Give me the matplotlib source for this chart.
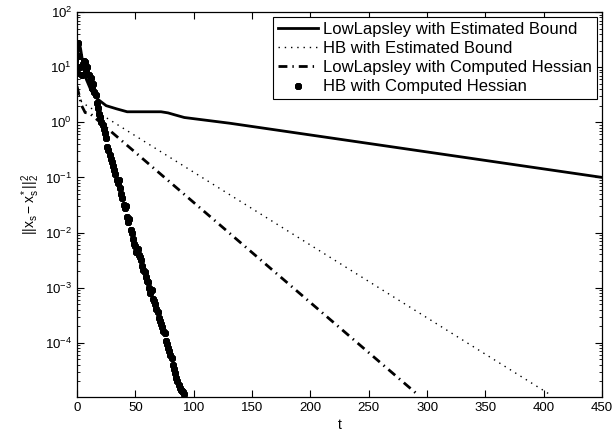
#!/usr/bin/env python3
import numpy as np
import matplotlib
matplotlib.use("Agg")
import matplotlib.pyplot as plt
from matplotlib.ticker import LogLocator, NullFormatter

# LowLapsley with Estimated Bound (breakpoints, straight in log scale)
ll_est_t = [0, 1, 2, 3, 5, 8, 12, 17, 25, 34, 43, 72, 78, 84, 92, 131, 450]
ll_est_v = [8, 20, 27, 22, 12, 6, 3.8, 2.7, 2.0, 1.75, 1.55, 1.55, 1.48, 1.36, 1.22, 0.96, 0.1]

# HB with Estimated Bound
hb_est_t = [0, 4, 407]
hb_est_v = [4.0, 2.3, 1.1e-5]

# LowLapsley with Computed Hessian
ll_hess_t = [0, 4, 7, 11, 291]
ll_hess_v = [4.5, 2.0, 1.5, 1.45, 1.2e-5]

# HB with Computed Hessian, log10 of the error read at t = 0, 1, 2, ...
hb_hess_log10 = [
    0.9, 1.43, 1.2, 1.0, 0.85, 1.05, 1.12, 1.1, 0.95, 1.0,
    0.85, 0.75, 0.8, 0.62, 0.7, 0.55, 0.5, 0.35, 0.25, 0.15,
    0.1, 0.0, -0.05, -0.12, -0.2, -0.28, -0.45, -0.5, -0.6, -0.66,
    -0.72, -0.8, -0.86, -0.93, -1.05, -1.1, -1.05, -1.2, -1.3, -1.38,
    -1.5, -1.55, -1.52, -1.72, -1.8, -1.75, -1.95, -2.0, -2.12, -2.2,
    -2.25, -2.35, -2.3, -2.4, -2.45, -2.5, -2.6, -2.68, -2.72, -2.8,
    -2.88, -2.9, -3.0, -3.1, -3.05, -3.2, -3.24, -3.3, -3.38, -3.45,
    -3.55, -3.6, -3.66, -3.72, -3.78, -3.82, -3.96, -4.02, -4.1, -4.15,
    -4.22, -4.28, -4.4, -4.48, -4.55, -4.63, -4.7, -4.76, -4.82, -4.86,
    -4.88, -4.9, -4.92,
]

x_ticks = [0, 50, 100, 150, 200, 250, 300, 350, 400, 450]


def main() -> None:
    plt.rcParams["font.family"] = ["Liberation Sans", "DejaVu Sans"]
    plt.rcParams["mathtext.fontset"] = "custom"
    plt.rcParams["mathtext.rm"] = "Liberation Sans"
    plt.rcParams["mathtext.it"] = "Liberation Sans"
    plt.rcParams["mathtext.default"] = "regular"

    fig = plt.figure(figsize=(6.14, 4.36), dpi=100)
    ax = fig.add_axes([0.1254, 0.0894, 0.8551, 0.8831])

    hb_t = np.arange(len(hb_hess_log10))
    hb_v = np.power(10.0, hb_hess_log10)

    ax.plot(ll_est_t, ll_est_v, color="black", lw=2.0, ls="-",
            label="LowLapsley with Estimated Bound")
    ax.plot(hb_est_t, hb_est_v, color="black", lw=1.0, ls=(0, (1, 3.5)),
            label="HB with Estimated Bound")
    ax.plot(ll_hess_t, ll_hess_v, color="black", lw=2.0, ls=(0, (3.2, 1.8, 0.5, 1.8)),
            label="LowLapsley with Computed Hessian")
    ax.plot(hb_t, hb_v, color="black", ls="none", marker=(8, 2, 0),
            markersize=5, markeredgewidth=1.8,
            label="HB with Computed Hessian")

    ax.set_yscale("log")
    ax.set_xlim(0, 450)
    ax.set_ylim(1.04e-5, 100)
    ax.set_xticks(x_ticks)
    ax.set_yticks([1e-4, 1e-3, 1e-2, 1e-1, 1e0, 1e1, 1e2])
    ax.yaxis.set_minor_locator(LogLocator(base=10, subs=np.arange(2, 10), numticks=20))
    ax.yaxis.set_minor_formatter(NullFormatter())

    ax.tick_params(which="both", direction="in", top=True, right=True, labelsize=9.5)
    ax.tick_params(which="major", length=5, width=0.8)
    ax.tick_params(which="minor", length=2.5, width=0.6)
    for s in ax.spines.values():
        s.set_linewidth(0.9)

    ax.set_xlabel("t", fontsize=10, labelpad=3)
    ax.set_ylabel(r"$||x_s-x_s^*||_2^2$", fontsize=10, labelpad=2)

    leg = ax.legend(loc="upper right", fontsize=12, handlelength=2.4,
                    fancybox=False, framealpha=1, edgecolor="black",
                    borderaxespad=0.3, labelspacing=0.25, borderpad=0.3,
                    handletextpad=0.3)
    leg.get_frame().set_linewidth(0.8)

    fig.savefig("out.png", dpi=100)


if __name__ == "__main__":
    main()
